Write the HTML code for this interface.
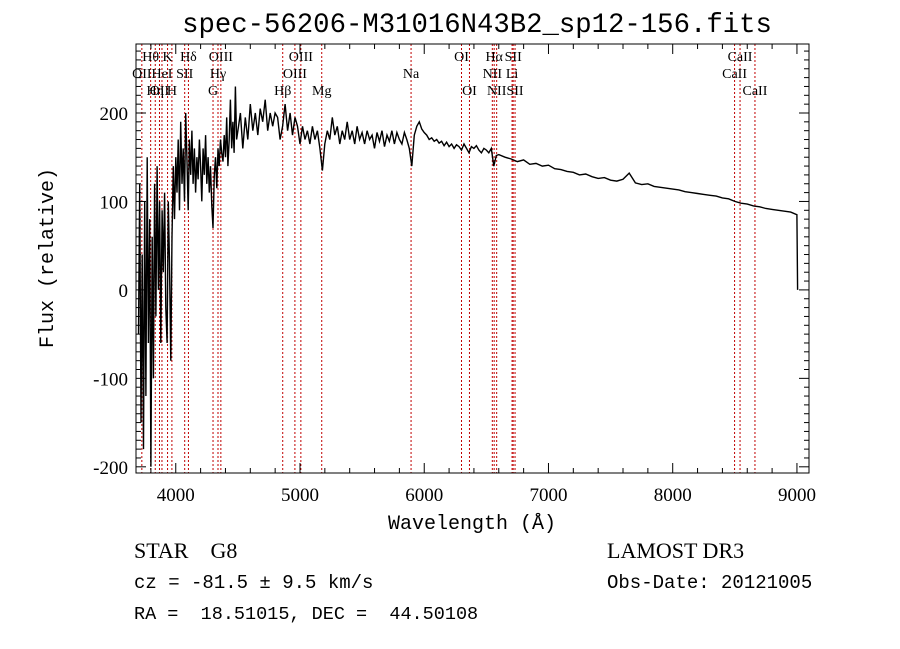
<!DOCTYPE html>
<html><head><meta charset="utf-8"><style>
html,body{margin:0;padding:0;background:#fff;width:900px;height:649px;overflow:hidden}
svg{display:block}
text{font-family:"Liberation Serif",serif;fill:#000;white-space:pre}
.mono{font-family:"Liberation Mono",monospace}
</style></head><body>
<svg id="chart" width="900" height="649" viewBox="0 0 900 649" xmlns="http://www.w3.org/2000/svg" xml:space="preserve">
<text x="477" y="32" font-size="27.3" text-anchor="middle" class="mono">spec-56206-M31016N43B2_sp12-156.fits</text>
<g id="lines"></g>
<g id="labels"></g>
<path id="spec" fill="none" stroke="#000" stroke-width="1.4"/>
<rect x="136" y="44" width="673" height="429" fill="none" stroke="#000" stroke-width="1"/>
<g id="ticks"></g>
<text x="472" y="529" font-size="20" text-anchor="middle" class="mono">Wavelength (Å)</text>
<text transform="translate(53,258) rotate(-90)" font-size="20" text-anchor="middle" class="mono">Flux (relative)</text>
<text x="134" y="558" font-size="22">STAR    G8</text>
<text x="134" y="588" font-size="19" class="mono">cz = -81.5 ± 9.5 km/s</text>
<text x="134" y="619" font-size="18.5" class="mono">RA =  18.51015, DEC =  44.50108</text>
<text x="607" y="558" font-size="22">LAMOST DR3</text>
<text x="607" y="588" font-size="19" class="mono">Obs-Date: 20121005</text>
</svg>
<script>
const waves=[3700,3710,3720,3730,3740,3750,3760,3770,3780,3790,3800,3810,3820,3830,3840,3850,3860,3870,3880,3890,3900,3910,3920,3930,3940,3950,3960,3970,3980,3990,4000,
4010,4020,4030,4040,4050,4060,4070,4080,4090,4100,4110,4120,4130,4140,4150,4160,4170,4180,4190,4200,4210,4220,4230,4240,4250,4260,4270,4280,4290,4300,4310,4320,4330,4340,4350,4360,4370,4380,4390,4400,4410,4420,4430,4440,4450,4460,4470,4480,4490,4500,
4520,4540,4560,4580,4600,4620,4640,4660,4680,4700,4720,4740,4760,4780,4800,4820,4840,4860,4880,4900,4920,4940,4960,4980,5000,
5020,5040,5060,5080,5100,5120,5140,5160,5180,5200,5220,5240,5260,5280,5300,5320,5340,5360,5380,5400,5420,5440,5460,5480,5500,5520,5540,5560,5580,5600,5620,5640,5660,5680,5700,5720,5740,5760,5780,5800,5820,5840,5860,5880,5900,
5920,5940,5960,5980,6000,6020,6040,6060,6080,6100,6120,6140,6160,6180,6200,6220,6240,6260,6280,6300,6320,6340,6360,6380,6400,6420,6440,6460,6480,6500,6520,6540,6560,6580,6600,
6650,6700,6750,6800,6850,6900,6950,7000,7050,7100,7150,7200,7250,7300,7350,7400,7450,7500,7550,7600,7650,7700,7750,7800,7850,7900,7950,8000,8050,8100,8150,8200,8250,8300,8350,8400,8450,8500,8550,8600,8650,8700,8750,8800,8850,8900,8950,9000,9005];
const flux=[-50,120,-150,40,-180,100,-120,150,-60,80,-200,60,-100,120,-30,140,0,100,-60,90,20,110,-20,-60,100,30,-80,60,140,80,150,
110,170,90,190,120,160,100,200,150,90,170,130,180,120,160,110,150,125,170,140,100,160,130,175,120,150,110,140,95,70,130,150,115,160,140,170,155,145,175,150,195,140,170,215,160,190,155,230,170,180,
200,160,195,170,210,180,200,175,205,190,215,180,200,185,200,195,170,185,210,180,200,175,195,185,165,
185,170,180,165,185,170,180,160,135,165,180,170,195,175,185,165,180,170,190,170,180,165,185,170,178,165,180,170,175,160,178,168,180,162,175,168,180,165,178,170,165,178,170,160,140,
175,185,190,182,178,175,170,172,168,170,166,168,163,167,162,165,160,164,162,158,165,160,155,162,160,163,158,155,160,158,155,160,140,152,153,
150,148,145,147,142,143,140,141,137,136,134,133,130,131,128,126,127,124,123,125,132,121,119,120,117,116,115,114,113,111,110,109,108,107,106,104,103,100,98,97,95,94,92,91,90,89,88,85,0];
const lineWaves=[3727,3798,3835,3869,3889,3934,3969,4072,4102,4300,4340,4363,4861,4959,5007,5175,5894,6300,6364,6548,6563,6583,6707,6716,6731,8498,8542,8662];
const lineNames=["OII","Hθ","Hη","OII","HeI","K","H","SII","Hδ","G","Hγ","OIII","Hβ","OIII","OIII","Mg","Na","OI","OI","NII","Hα","NII","Li","SII","SII","CaII","CaII","CaII"];
const lineRows=[2,1,3,3,2,1,3,2,1,3,2,1,3,2,1,3,2,1,3,2,1,3,2,1,3,2,1,3];
const xTicks=[4000,5000,6000,7000,8000,9000];
const yTicks=[-200,-100,0,100,200];
const NS="http://www.w3.org/2000/svg";
const X0=136,X1=809,Y0=44,Y1=473,WMIN=3680,WMAX=9097,FMIN=-207,FMAX=278;
function xs(w){return X0+(w-WMIN)/(WMAX-WMIN)*(X1-X0);}
function ys(f){return Y1-(f-FMIN)/(FMAX-FMIN)*(Y1-Y0);}
function mk(tag,attrs,parent){const e=document.createElementNS(NS,tag);for(const k in attrs)e.setAttribute(k,attrs[k]);parent.appendChild(e);return e;}
let d="";
for(let i=0;i<waves.length;i++){d+=(i?"L":"M")+xs(waves[i]).toFixed(1)+","+ys(flux[i]).toFixed(1);}
document.getElementById("spec").setAttribute("d",d);
const lg=document.getElementById("lines"),lb=document.getElementById("labels");
for(let i=0;i<lineWaves.length;i++){
 const x=xs(lineWaves[i]);
 const l=mk("line",{x1:x,x2:x,y1:Y0,y2:Y1,stroke:"#c00000","stroke-width":1,"stroke-dasharray":"2,2"},lg);
 
 
 const t=mk("text",{x:x,y:61+(lineRows[i]-1)*17,"font-size":14,"text-anchor":"middle"},lb);
 t.textContent=lineNames[i];
 
 
}
const tg=document.getElementById("ticks");
for(let w=3800;w<=9000;w+=200){
 const major=w%1000===0,len=major?10:5,x=xs(w);
 mk("line",{x1:x,x2:x,y1:Y1,y2:Y1-len,stroke:"#000"},tg);
 mk("line",{x1:x,x2:x,y1:Y0,y2:Y0+len,stroke:"#000"},tg);
}
for(let f=-200;f<=270;f+=10){
 const major=f%100===0,len=major?10:5,y=ys(f);
 mk("line",{x1:X0,x2:X0+len,y1:y,y2:y,stroke:"#000"},tg);
 mk("line",{x1:X1,x2:X1-len,y1:y,y2:y,stroke:"#000"},tg);
}
xTicks.forEach(w=>{const t=mk("text",{x:xs(w),y:501,"font-size":19,"text-anchor":"middle"},tg);t.textContent=w;
 
 });
yTicks.forEach(f=>{const t=mk("text",{x:128,y:ys(f)+7,"font-size":19,"text-anchor":"end"},tg);t.textContent=f;
 
 });
</script>
</body></html>
